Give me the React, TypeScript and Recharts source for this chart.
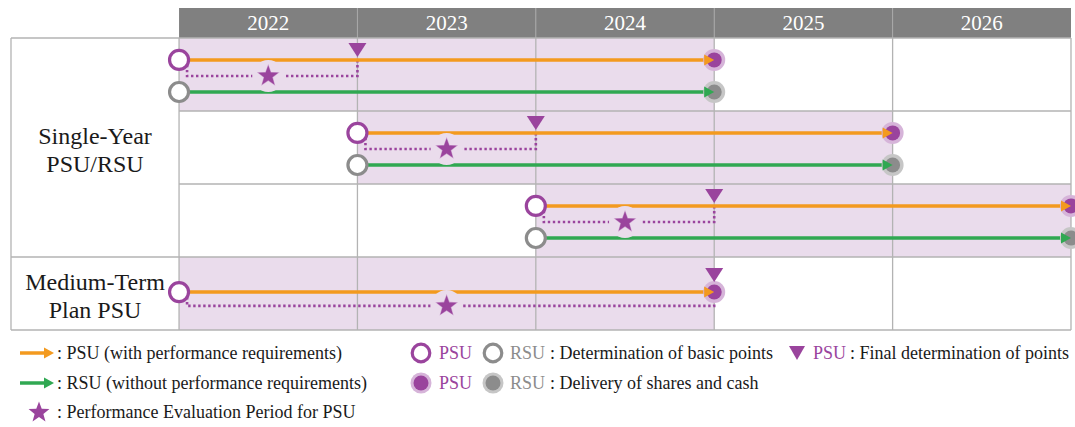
import React from 'react';
import {
  ComposedChart,
  XAxis,
  YAxis,
  ReferenceArea,
  ReferenceLine,
  Line,
  Scatter,
} from 'recharts';

// timeline columns (fiscal years)
const years = [2022, 2023, 2024, 2025, 2026];
const timelineEnd = 2027;
const labelColumnStart = 2021.058;
const headerTop = -0.411;

// one entry per plan row
const planRow = [0, 1, 2, 3];
const planStart = [2022, 2023, 2024, 2022];
const planFinal = [2023, 2024, 2025, 2025];
const planEnd = [2025, 2026, 2027, 2025];
const planHasRsu = [true, true, true, false];

// left column groups
const groupLines = [
  ['Single-Year', 'PSU/RSU'],
  ['Medium-Term', 'Plan PSU'],
];
const groupFirstRow = [0, 3];
const groupLastRow = [3, 4];

const legendArrowTexts = [
  ': PSU (with performance requirements)',
  ': RSU (without performance requirements)',
];
const legendStarText = ': Performance Evaluation Period for PSU';
const legendCircleTexts = [': Determination of basic points', ': Delivery of shares and cash'];
const legendTriangleText = ': Final determination of points';

const ORANGE = '#f39a1f';
const GREEN = '#30a852';
const PURPLE = '#9a449d';
const PURPLE_HALO = '#d6b4d9';
const GREY = '#8c8c8c';
const GREY_HALO = '#c6c6c6';
const SHADE = '#eadcec';
const GRID = '#b3b3b3';
const HEADER = '#808080';
const FONT = "'Liberation Serif', 'DejaVu Serif', serif";
const DOT_INSET = 0.045; // dotted path leaves the grant circle slightly to the right

const lanesFor = (hasRsu: boolean) =>
  hasRsu ? { psu: 0.3, dot: 0.52, rsu: 0.74 } : { psu: 0.48, dot: 0.67, rsu: 0.74 };

const plans = planRow.map((row, i) => {
  const lane = lanesFor(planHasRsu[i]);
  return {
    row,
    start: planStart[i],
    final: planFinal[i],
    end: planEnd[i],
    hasRsu: planHasRsu[i],
    psuY: row + lane.psu,
    dotY: row + lane.dot,
    rsuY: row + lane.rsu,
  };
});

const startPsu = plans.map((p) => ({ x: p.start, y: p.psuY }));
const startRsu = plans.filter((p) => p.hasRsu).map((p) => ({ x: p.start, y: p.rsuY }));
const endPsu = plans.map((p) => ({ x: p.end, y: p.psuY }));
const endRsu = plans.filter((p) => p.hasRsu).map((p) => ({ x: p.end, y: p.rsuY }));
const finals = plans.map((p) => ({ x: p.final, y: p.psuY, raised: p.final === p.end }));
const stars = plans.map((p) => ({ x: (p.start + p.final) / 2, y: p.dotY }));

const starPoints = (cx: number, cy: number, outer: number, inner: number) => {
  const pts: string[] = [];
  for (let i = 0; i < 10; i++) {
    const r = i % 2 === 0 ? outer : inner;
    const a = -Math.PI / 2 + (i * Math.PI) / 5;
    pts.push(`${cx + r * Math.cos(a)},${cy + r * Math.sin(a)}`);
  }
  return pts.join(' ');
};

const OpenCircle = ({ cx, cy, color }: any) => (
  <circle cx={cx} cy={cy} r={9.5} fill="#fff" stroke={color} strokeWidth={3.2} />
);

const FilledCircle = ({ cx, cy, color, halo }: any) => (
  <g>
    <circle cx={cx} cy={cy} r={11} fill={halo} />
    <circle cx={cx} cy={cy} r={7.5} fill={color} />
  </g>
);

const Triangle = ({ cx, cy, payload }: any) => {
  const tip = cy - (payload && payload.raised ? 10 : 3);
  return (
    <polygon points={`${cx - 9},${tip - 14} ${cx + 9},${tip - 14} ${cx},${tip}`} fill={PURPLE} />
  );
};

const StarMark = ({ cx, cy }: any) => (
  <g>
    <circle cx={cx} cy={cy} r={16} fill={SHADE} />
    <polygon points={starPoints(cx, cy, 12, 5)} fill="#c99bcc" />
    <polygon points={starPoints(cx, cy, 10.5, 4.3)} fill={PURPLE} />
  </g>
);

const arrowDot = (color: string) => (props: any) => {
  const { cx, cy, index } = props;
  if (index !== 1) return <g key={`d${index}`} />;
  return (
    <polygon
      key={`d${index}`}
      points={`${cx - 10},${cy - 5.5} ${cx},${cy} ${cx - 10},${cy + 5.5}`}
      fill={color}
    />
  );
};

const GroupLabel = ({ viewBox, lines }: any) => {
  const cx = viewBox.x + viewBox.width / 2;
  const cy = viewBox.y + viewBox.height / 2;
  return (
    <g>
      {lines.map((t: string, i: number) => (
        <text
          key={t}
          x={cx}
          y={cy - 4 + i * 28.5}
          textAnchor="middle"
          fontSize={24}
          fill="#1a1a1a"
          fontFamily={FONT}
        >
          {t}
        </text>
      ))}
    </g>
  );
};

const LegendArrow = ({ color }: { color: string }) => (
  <svg width={36} height={14}>
    <line x1={1} y1={7} x2={26} y2={7} stroke={color} strokeWidth={3.5} />
    <polygon points="25,1.5 35,7 25,12.5" fill={color} />
  </svg>
);

const LegendCircle = ({ filled, color, halo }: any) => (
  <svg width={22} height={22}>
    {filled ? (
      <>
        <circle cx={11} cy={11} r={10.5} fill={halo} />
        <circle cx={11} cy={11} r={7.5} fill={color} />
      </>
    ) : (
      <circle cx={11} cy={11} r={8.8} fill="#fff" stroke={color} strokeWidth={3.2} />
    )}
  </svg>
);

const textStyle: React.CSSProperties = { fontSize: 18, color: '#1a1a1a', whiteSpace: 'pre' };

function ChartLegend() {
  const row = (key: string, top: number, left: number, children: React.ReactNode) => (
    <div
      key={key}
      style={{
        position: 'absolute',
        top: top - 12,
        left,
        height: 24,
        display: 'flex',
        alignItems: 'center',
      }}
    >
      {children}
    </div>
  );
  const rowsY = [353, 383, 412];
  return (
    <>
      {legendArrowTexts.map((t, i) =>
        row(
          `a${i}`,
          rowsY[i],
          19,
          <>
            <LegendArrow color={i === 0 ? ORANGE : GREEN} />
            <span style={{ ...textStyle, marginLeft: 2 }}>{t}</span>
          </>,
        ),
      )}
      {row(
        's',
        rowsY[2],
        27,
        <>
          <svg width={24} height={24}>
            <polygon points={starPoints(12, 12.5, 11, 4.6)} fill={PURPLE} />
          </svg>
          <span style={{ ...textStyle, marginLeft: 6 }}>{legendStarText}</span>
        </>,
      )}
      {legendCircleTexts.map((t, i) =>
        row(
          `c${i}`,
          rowsY[i],
          410,
          <>
            <LegendCircle filled={i === 1} color={PURPLE} halo={PURPLE_HALO} />
            <span style={{ ...textStyle, color: PURPLE, marginLeft: 7 }}>PSU</span>
            <span style={{ width: 10 }} />
            <LegendCircle filled={i === 1} color={GREY} halo={GREY_HALO} />
            <span style={{ ...textStyle, color: GREY, marginLeft: 6 }}>RSU</span>
            <span style={{ ...textStyle, marginLeft: 5 }}>{t}</span>
          </>,
        ),
      )}
      {row(
        't',
        rowsY[0],
        787,
        <>
          <svg width={20} height={20}>
            <polygon points="2,3 18,3 10,17" fill={PURPLE} />
          </svg>
          <span style={{ ...textStyle, color: PURPLE, marginLeft: 6 }}>PSU</span>
          <span style={{ ...textStyle, marginLeft: 4 }}>{legendTriangleText}</span>
        </>,
      )}
    </>
  );
}

export default function App() {
  return (
    <div
      style={{
        position: 'absolute',
        left: 0,
        top: 0,
        width: 1075,
        height: 427,
        background: '#fff',
        fontFamily: FONT,
        overflow: 'hidden',
      }}
    >
      <ComposedChart width={1075} height={335} margin={{ top: 8, right: 4, bottom: 5, left: 11 }}>
        <XAxis type="number" dataKey="x" domain={[labelColumnStart, timelineEnd]} hide />
        <YAxis type="number" dataKey="y" domain={[headerTop, 4]} reversed hide />

        {/* header */}
        {years.map((yr) => (
          <ReferenceArea
            key={`h${yr}`}
            x1={yr}
            x2={yr + 1}
            y1={headerTop}
            y2={0}
            fill={HEADER}
            fillOpacity={1}
            stroke="none"
            label={{ value: String(yr), position: 'center', fill: '#fff', fontSize: 21, fontFamily: FONT }}
          />
        ))}
        {years.slice(1).map((yr) => (
          <ReferenceLine
            key={`hs${yr}`}
            segment={[
              { x: yr, y: headerTop },
              { x: yr, y: 0 },
            ]}
            stroke="#a8a8a8"
            strokeWidth={1}
          />
        ))}

        {/* plan period shading */}
        {plans.map((p) => (
          <ReferenceArea
            key={`s${p.row}`}
            x1={p.start}
            x2={p.end}
            y1={p.row}
            y2={p.row + 1}
            fill={SHADE}
            fillOpacity={1}
            stroke="none"
          />
        ))}

        {/* left column labels */}
        {groupLines.map((lines, i) => (
          <ReferenceArea
            key={`g${i}`}
            x1={labelColumnStart}
            x2={years[0]}
            y1={groupFirstRow[i]}
            y2={groupLastRow[i]}
            fill="none"
            stroke="none"
            label={(props: any) => <GroupLabel viewBox={props.viewBox} lines={lines} />}
          />
        ))}

        {/* grid */}
        {[0, 3, 4].map((r) => (
          <ReferenceLine
            key={`hr${r}`}
            segment={[
              { x: labelColumnStart, y: r },
              { x: timelineEnd, y: r },
            ]}
            stroke={GRID}
            strokeWidth={1.3}
          />
        ))}
        {[1, 2].map((r) => (
          <ReferenceLine
            key={`hr${r}`}
            segment={[
              { x: years[0], y: r },
              { x: timelineEnd, y: r },
            ]}
            stroke={GRID}
            strokeWidth={1.3}
          />
        ))}
        {[labelColumnStart, ...years, timelineEnd].map((yr) => (
          <ReferenceLine
            key={`v${yr}`}
            segment={[
              { x: yr, y: 0 },
              { x: yr, y: 4 },
            ]}
            stroke={GRID}
            strokeWidth={1.3}
          />
        ))}

        {/* dotted evaluation period */}
        {plans.map((p) => (
          <Line
            key={`e${p.row}`}
            data={[
              { x: p.start + DOT_INSET, y: p.psuY },
              { x: p.start + DOT_INSET, y: p.dotY },
              { x: p.final, y: p.dotY },
              { x: p.final, y: p.psuY },
            ]}
            dataKey="y"
            stroke={PURPLE}
            strokeWidth={2.6}
            strokeDasharray="2.4 2.6"
            dot={false}
            isAnimationActive={false}
          />
        ))}
        <Scatter data={stars} shape={(props: any) => <StarMark {...props} />} isAnimationActive={false} />

        {/* delivery points */}
        <Scatter
          data={endPsu}
          shape={(props: any) => <FilledCircle {...props} color={PURPLE} halo={PURPLE_HALO} />}
          isAnimationActive={false}
        />
        <Scatter
          data={endRsu}
          shape={(props: any) => <FilledCircle {...props} color={GREY} halo={GREY_HALO} />}
          isAnimationActive={false}
        />

        {/* PSU / RSU arrows */}
        {plans.map((p) => (
          <Line
            key={`p${p.row}`}
            data={[
              { x: p.start, y: p.psuY },
              { x: p.end, y: p.psuY },
            ]}
            dataKey="y"
            stroke={ORANGE}
            strokeWidth={3.5}
            dot={arrowDot(ORANGE)}
            isAnimationActive={false}
          />
        ))}
        {plans
          .filter((p) => p.hasRsu)
          .map((p) => (
            <Line
              key={`r${p.row}`}
              data={[
                { x: p.start, y: p.rsuY },
                { x: p.end, y: p.rsuY },
              ]}
              dataKey="y"
              stroke={GREEN}
              strokeWidth={3.5}
              dot={arrowDot(GREEN)}
              isAnimationActive={false}
            />
          ))}

        {/* grant points and final determination */}
        <Scatter
          data={startPsu}
          shape={(props: any) => <OpenCircle {...props} color={PURPLE} />}
          isAnimationActive={false}
        />
        <Scatter
          data={startRsu}
          shape={(props: any) => <OpenCircle {...props} color={GREY} />}
          isAnimationActive={false}
        />
        <Scatter data={finals} shape={(props: any) => <Triangle {...props} />} isAnimationActive={false} />
      </ComposedChart>
      <ChartLegend />
    </div>
  );
}
